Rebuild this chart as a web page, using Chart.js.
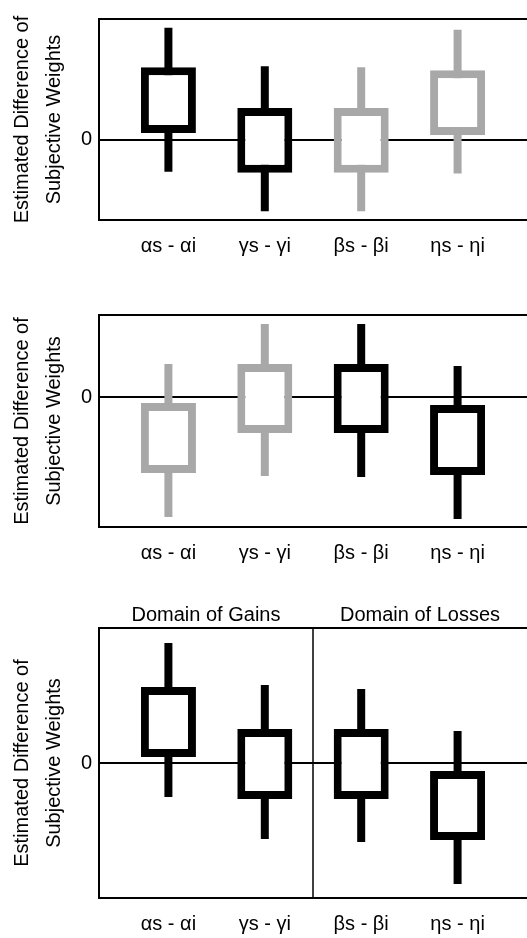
<!DOCTYPE html>
<html>
<head>
<meta charset="utf-8">
<script src="https://cdn.jsdelivr.net/npm/chart.js@4.4.1/dist/chart.umd.min.js"></script>
<style>
  html, body { margin: 0; padding: 0; background: #ffffff; }
  body { width: 527px; height: 938px; position: relative; overflow: hidden; }
  canvas { position: absolute; left: 0; display: block; }
</style>
</head>
<body>
<canvas id="panelA" width="527" height="270" style="top:0px"></canvas>
<canvas id="panelB" width="527" height="290" style="top:290px"></canvas>
<canvas id="panelC" width="527" height="348" style="top:590px"></canvas>
<script>
// Parameter differences (s minus i), one interval per parameter
const categories = ['αs - αi', 'γs - γi', 'βs - βi', 'ηs - ηi'];
const categoryPositions = [1, 2, 3, 4];
const yTickValues = [0];
const yTitle = ['Estimated Difference of', 'Subjective Weights'];
const domains = ['Domain of Gains', 'Domain of Losses'];
const domainSplit = 2.5;

// Top panel
const aWhiskerLow  = [-0.33, -0.74, -0.74, -0.35];
const aBoxLow      = [ 0.07, -0.34, -0.34,  0.05];
const aBoxHigh     = [ 0.75,  0.33,  0.33,  0.72];
const aWhiskerHigh = [ 1.16,  0.76,  0.75,  1.14];
const aSolid       = [true, true, false, false];

// Middle panel
const bWhiskerLow  = [-1.20, -0.79, -0.80, -1.22];
const bBoxLow      = [-0.76, -0.36, -0.36, -0.78];
const bBoxHigh     = [-0.06,  0.33,  0.33, -0.08];
const bWhiskerHigh = [ 0.33,  0.73,  0.73,  0.31];
const bSolid       = [false, false, true, true];

// Bottom panel
const cWhiskerLow  = [-0.34, -0.76, -0.79, -1.21];
const cBoxLow      = [ 0.06, -0.36, -0.36, -0.77];
const cBoxHigh     = [ 0.76,  0.34,  0.34, -0.08];
const cWhiskerHigh = [ 1.20,  0.78,  0.74,  0.32];
const cSolid       = [true, true, true, true];

const FONT = '"Liberation Sans", Arial, Helvetica, sans-serif';
const DARK = '#000000';
const LIGHT = '#a8a8a8';

// Top edge of the frame, plus optional domain divider and headings
const framePlugin = {
  id: 'frame',
  afterDraw(chart, args, opts) {
    const { ctx, chartArea: a, scales } = chart;
    ctx.save();
    ctx.strokeStyle = '#000';
    ctx.lineWidth = 2;
    ctx.beginPath();
    ctx.moveTo(a.left - 1, a.top);
    ctx.lineTo(a.right, a.top);
    ctx.stroke();
    if (opts && opts.split !== undefined) {
      const xs = scales.x.getPixelForValue(opts.split);
      ctx.lineWidth = 1.5;
      ctx.beginPath();
      ctx.moveTo(xs, a.top);
      ctx.lineTo(xs, a.bottom);
      ctx.stroke();
      ctx.fillStyle = '#000';
      ctx.font = '20px ' + FONT;
      ctx.textAlign = 'center';
      ctx.textBaseline = 'middle';
      ctx.fillText(opts.headings[0], (a.left + xs) / 2, a.top - 13);
      ctx.fillText(opts.headings[1], (xs + a.right) / 2, a.top - 13);
    }
    ctx.restore();
  }
};

function makePanel(id, wLow, bLow, bHigh, wHigh, solid, yMin, yMax, padTop, xHeight, withDomains) {
  const colors = solid.map(s => s ? DARK : LIGHT);
  const boxes = categoryPositions.map((x, i) => ({ x: x, y: [bLow[i], bHigh[i]] }));
  const whiskers = categoryPositions.map((x, i) => ({ x: x, y: [wLow[i], wHigh[i]] }));
  return new Chart(document.getElementById(id), {
    type: 'bar',
    data: {
      datasets: [
        {
          data: boxes,
          order: 0,
          grouped: false,
          barThickness: 55,
          backgroundColor: '#ffffff',
          borderColor: colors,
          borderWidth: 8,
          borderSkipped: false,
          inflateAmount: 0
        },
        {
          data: whiskers,
          order: 1,
          grouped: false,
          barThickness: 8,
          backgroundColor: colors,
          borderWidth: 0,
          inflateAmount: 0
        }
      ]
    },
    options: {
      responsive: false,
      animation: false,
      events: [],
      layout: { padding: { top: padTop, left: 0, right: 0, bottom: 0 } },
      plugins: {
        legend: { display: false },
        tooltip: { enabled: false },
        frame: withDomains ? { split: domainSplit, headings: domains } : {}
      },
      scales: {
        x: {
          type: 'linear',
          offset: false,
          min: 0.28,
          max: 4.72,
          afterBuildTicks: s => { s.ticks = categoryPositions.map(v => ({ value: v })); },
          afterFit: s => { s.height = xHeight; },
          grid: { display: false, drawTicks: false },
          border: { display: true, color: '#000', width: 2 },
          ticks: {
            autoSkip: false,
            maxRotation: 0,
            padding: 14,
            color: '#000',
            font: { family: FONT, size: 20 },
            callback: (v, i) => categories[i]
          }
        },
        y: {
          type: 'linear',
          min: yMin,
          max: yMax,
          z: 1,
          afterBuildTicks: s => { s.ticks = yTickValues.map(v => ({ value: v })); },
          afterFit: s => { s.width = 99; },
          grid: { color: '#000', lineWidth: 2, drawTicks: false },
          border: { display: true, color: '#000', width: 2 },
          ticks: {
            padding: 7,
            color: '#000',
            font: { family: FONT, size: 20 },
            callback: v => String(v)
          },
          title: {
            display: true,
            text: yTitle,
            color: '#000',
            padding: { top: 6, bottom: 0 },
            font: { family: FONT, size: 20, lineHeight: 1.6 }
          }
        }
      }
    },
    plugins: [framePlugin]
  });
}

makePanel('panelA', aWhiskerLow, aBoxLow, aBoxHigh, aWhiskerHigh, aSolid, -0.83, 1.25, 12, 50, false);
makePanel('panelB', bWhiskerLow, bBoxLow, bBoxHigh, bWhiskerHigh, bSolid, -1.30, 0.82, 25, 53, false);
makePanel('panelC', cWhiskerLow, cBoxLow, cBoxHigh, cWhiskerHigh, cSolid, -1.35, 1.35, 38, 40, true);
</script>
</body>
</html>
